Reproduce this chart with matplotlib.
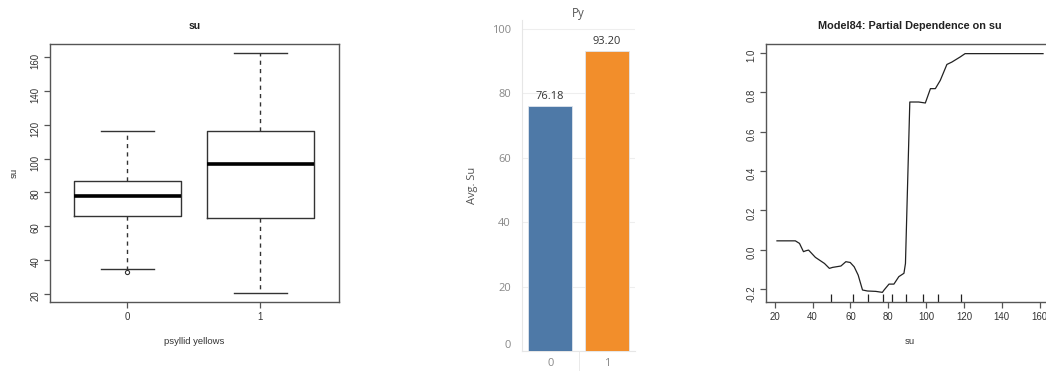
import numpy as np
import matplotlib.pyplot as plt

# box plot stats (su by psyllid yellows)
groups = ['0', '1']
q1 = [66, 65]
med = [78, 97]
q3 = [86.5, 116]
whislo = [35, 21]
whishi = [116, 162]
fliers = [[33], []]

# bar chart (average su)
bar_labels = ['0', '1']
bar_values = [76.18, 93.20]
bar_colors = ['#4e79a7', '#f28e2b']

# partial dependence curve
pd_x = [21.2, 30.9, 33.1, 35.2, 36.6, 37.9, 41.5, 46.3, 48.9, 50.6, 55.0, 57.6,
        59.9, 62.0, 64.1, 66.4, 69.0, 73.4, 76.9, 77.8, 80.4, 83.0, 85.6, 88.3,
        89.1, 91.4, 96.1, 99.6, 102.3, 104.9, 107.5, 111.0, 113.6, 118.0, 120.6, 161.8]
pd_y = [0.045, 0.045, 0.032, -0.01, -0.005, -0.002, -0.039, -0.07, -0.095, -0.09,
        -0.083, -0.061, -0.065, -0.087, -0.129, -0.205, -0.21, -0.212, -0.217, -0.205,
        -0.175, -0.175, -0.137, -0.12, -0.07, 0.751, 0.751, 0.746, 0.819, 0.819,
        0.861, 0.942, 0.954, 0.98, 0.997, 0.997]
rug_x = [50, 61.3, 69.2, 77.4, 81.9, 89.3, 98.4, 106.3, 118.5]

plt.rcParams['font.family'] = ['Liberation Sans', 'DejaVu Sans']
fig = plt.figure(figsize=(10.46, 3.71), dpi=100)
W, H = 1046, 371

def pos(x0, x1, y0, y1):
    return [x0 / W, 1 - y1 / H, (x1 - x0) / W, (y1 - y0) / H]

rcol = '#333333'

def r_style(ax):
    for s in ax.spines.values():
        s.set_color('#555555')
        s.set_linewidth(1.0)
    ax.tick_params(colors='#555555', labelcolor='#333333', labelsize=6.9,
                   length=4, width=0.9, pad=3)
    ax.tick_params(axis='y', labelrotation=90)

# ---- panel 1: box plot
ax1 = fig.add_axes(pos(50, 339, 44, 302))
stats = []
for i in range(len(groups)):
    stats.append(dict(med=med[i], q1=q1[i], q3=q3[i], whislo=whislo[i],
                      whishi=whishi[i], fliers=fliers[i], label=groups[i]))
ax1.bxp(stats, positions=[0, 1], widths=0.8, capwidths=0.4,
        boxprops=dict(color=rcol, linewidth=1.0),
        whiskerprops=dict(color=rcol, linewidth=1.0, linestyle=(0, (3, 3))),
        capprops=dict(color=rcol, linewidth=1.0),
        medianprops=dict(color='black', linewidth=2.6),
        flierprops=dict(marker='o', markersize=3, markerfacecolor='none',
                        markeredgecolor=rcol, markeredgewidth=0.8))
ax1.set_xlim(-0.58, 1.59)
ax1.set_ylim(15.4, 167.6)
ax1.set_yticks([20, 40, 60, 80, 100, 120, 140, 160])
r_style(ax1)
ax1.set_title('su', fontsize=7.5, fontweight='bold', color='#222222', pad=11)
ax1.set_xlabel('psyllid yellows', fontsize=6.8, color='#333333', labelpad=11)
ax1.set_ylabel('su', fontsize=6.8, color='#333333', labelpad=8)

# ---- panel 2: bar chart
ax2 = fig.add_axes(pos(522, 635, 20, 351))
bars = ax2.bar(range(len(bar_values)), bar_values, width=0.77, color=bar_colors,
               edgecolor='#dfe6ee', linewidth=0.6, zorder=3)
for b, v in zip(bars, bar_values):
    ax2.text(b.get_x() + b.get_width() / 2, v + 1.2, f'{v:.2f}', ha='center',
             va='bottom', fontsize=8, color='#333333', family='Open Sans')
ax2.set_xlim(-0.5, 1.5)
ax2.set_ylim(0, 102.8)
ax2.set_yticks([0, 20, 40, 60, 80, 100])
ax2.yaxis.grid(True, color='#eeeeee', linewidth=0.8, zorder=0)
for s in ['top', 'right']:
    ax2.spines[s].set_visible(False)
ax2.spines['left'].set_color('#e6e6e6')
ax2.spines['bottom'].set_color('#e6e6e6')
ax2.set_xticks(range(len(bar_labels)))
ax2.set_xticklabels(bar_labels)
ax2.set_xticks([0.5], minor=True)
ax2.tick_params(axis='x', which='major', length=0, pad=5)
ax2.tick_params(axis='x', which='minor', length=18, color='#e6e6e6')
ax2.tick_params(axis='y', length=0, pad=8)
for lab in ax2.get_xticklabels() + ax2.get_yticklabels():
    lab.set_fontfamily('Open Sans')
    lab.set_fontsize(8)
    lab.set_color('#888888')
ax2.get_yticklabels()[0].set_va('bottom')
ax2.set_title('Py', fontsize=8.3, color='#555555', family='Open Sans', pad=2)
ax2.set_ylabel('Avg. Su', fontsize=8, color='#555555', family='Open Sans', labelpad=10)

# ---- panel 3: partial dependence
ax3 = fig.add_axes(pos(766, 1054, 44, 302))
ax3.plot(pd_x, pd_y, color='#222222', linewidth=0.9)
ax3.vlines(rug_x, 0, 0.03, transform=ax3.get_xaxis_transform(), color='#222222',
           linewidth=0.9)
ax3.set_xlim(15.4, 167.6)
ax3.set_ylim(-0.266, 1.046)
ax3.set_xticks([20, 40, 60, 80, 100, 120, 140, 160])
ax3.set_yticks([-0.2, 0.0, 0.2, 0.4, 0.6, 0.8, 1.0])
ax3.set_yticklabels(['-0.2', '0.0', '0.2', '0.4', '0.6', '0.8', '1.0'])
r_style(ax3)
ax3.set_title('Model84: Partial Dependence on su', fontsize=7.8, fontweight='bold',
              color='#222222', pad=11)
ax3.set_xlabel('su', fontsize=6.8, color='#333333', labelpad=11)

fig.savefig('out.png', dpi=100)
